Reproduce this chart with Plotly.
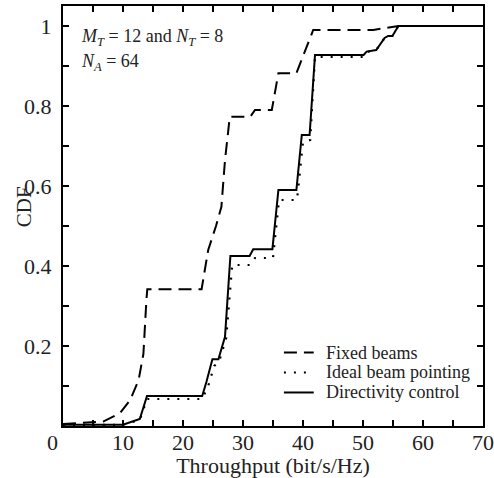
import plotly.graph_objects as go

# Throughput (bit/s/Hz) vs CDF
fixed_x = [0, 6.7, 9.5, 11.2, 12.6, 13.4, 13.9, 14.05, 23.1, 24.2, 25.5, 26.4, 27.0, 27.8, 31.2, 32.0, 34.8, 35.9, 38.9, 41.7, 51.7, 55.9, 70]
fixed_y = [0.005, 0.011, 0.032, 0.065, 0.115, 0.18, 0.315, 0.342, 0.342, 0.44, 0.50, 0.548, 0.665, 0.773, 0.773, 0.79, 0.79, 0.882, 0.882, 0.99, 0.99, 1.0, 1.0]

ideal_x = [0, 10, 12.8, 14, 23.2, 24.2, 25.2, 26.0, 27.2, 28.2, 31.2, 32.0, 35.0, 36.0, 39.0, 40.0, 41.2, 42.0, 50.1, 50.6, 52.2, 53.6, 54.2, 54.9, 55.9, 70]
ideal_y = [0.003, 0.003, 0.015, 0.0675, 0.0675, 0.10, 0.15, 0.16, 0.22, 0.4025, 0.4025, 0.42, 0.42, 0.565, 0.565, 0.71, 0.715, 0.9225, 0.9225, 0.935, 0.94, 0.97, 0.975, 0.975, 1.0, 1.0]

direct_x = [0, 10, 12.8, 14, 23.2, 23.9, 24.9, 25.9, 27.0, 27.9, 31.1, 31.7, 34.9, 35.9, 38.9, 39.8, 41.1, 42.0, 50.1, 50.6, 52.2, 53.6, 54.2, 54.9, 55.9, 70]
direct_y = [0.003, 0.003, 0.0175, 0.075, 0.075, 0.11, 0.167, 0.167, 0.223, 0.425, 0.425, 0.442, 0.442, 0.59, 0.59, 0.7275, 0.7275, 0.9275, 0.9275, 0.936, 0.94, 0.97, 0.975, 0.975, 1.0, 1.0]

series_names = ["Fixed beams", "Ideal beam pointing", "Directivity control"]

x_major = [10, 20, 30, 40, 50, 60, 70]
x_minor = [5, 15, 25, 35, 45, 55, 65]
y_major = [0.2, 0.4, 0.6, 0.8, 1.0]
y_major_text = ["0.2", "0.4", "0.6", "0.8", "1"]
y_minor = [0.1, 0.3, 0.5, 0.7, 0.9]

FONT = "Liberation Serif, Times New Roman, serif"
TXT = "#222"
DASHES = ["13px,7px", "2px,8px", "solid"]

fig = go.Figure()
for xs, ys, nm, ds in zip([fixed_x, ideal_x, direct_x], [fixed_y, ideal_y, direct_y], series_names, DASHES):
    fig.add_trace(go.Scatter(x=xs, y=ys, mode="lines", name=nm, showlegend=False,
                             line=dict(color="black", width=2 if ds != "2px,8px" else 2.2, dash=ds)))

axis_common = dict(showline=True, linewidth=2, linecolor="black", mirror="ticks",
                   ticks="inside", ticklen=6, tickwidth=1.5, tickcolor="black",
                   showgrid=False, zeroline=False, automargin=False,
                   ticklabeloverflow="allow",
                   tickfont=dict(family=FONT, size=22, color=TXT))

fig.update_xaxes(range=[0, 70], tickmode="array", tickvals=x_major, ticklabelstandoff=-4,
                 minor=dict(tickvals=x_minor, ticks="inside", ticklen=6, tickwidth=1.5, tickcolor="black"),
                 title=dict(text="Throughput (bit/s/Hz)", font=dict(family=FONT, size=22, color=TXT), standoff=3),
                 **axis_common)
fig.update_yaxes(range=[0, 1.05], tickmode="array", tickvals=y_major, ticktext=y_major_text,
                 ticklabelstandoff=5,
                 minor=dict(tickvals=y_minor, ticks="inside", ticklen=6, tickwidth=1.5, tickcolor="black"),
                 **axis_common)

# y-axis title
fig.add_annotation(xref="paper", yref="paper", x=-0.094, y=0.522, xanchor="center", yanchor="middle",
                   text="CDF", textangle=-90, showarrow=False, font=dict(family=FONT, size=21, color=TXT))
# shared origin label
fig.add_annotation(xref="paper", yref="paper", x=-0.026, y=-0.004, xanchor="center", yanchor="top",
                   text="0", showarrow=False, font=dict(family=FONT, size=22, color=TXT))
# parameter notes
fig.add_annotation(xref="paper", yref="paper", x=0.038, y=0.926, xanchor="left", yanchor="middle",
                   align="left",
                   text="<i>M</i><sub><i>T</i></sub> = 12 and <i>N</i><sub><i>T</i></sub> = 8",
                   showarrow=False, font=dict(family=FONT, size=18, color=TXT))
fig.add_annotation(xref="paper", yref="paper", x=0.038, y=0.866, xanchor="left", yanchor="middle",
                   align="left",
                   text="<i>N</i><sub><i>A</i></sub> = 64",
                   showarrow=False, font=dict(family=FONT, size=18, color=TXT))

# legend (inside, lower right)
leg_rows = [0.175, 0.1274, 0.0798]
for nm, ds, yy in zip(series_names, DASHES, leg_rows):
    fig.add_shape(type="line", xref="paper", yref="paper", x0=0.526, x1=0.597, y0=yy, y1=yy,
                  line=dict(color="black", width=2 if ds != "2px,8px" else 2.2, dash=ds))
    fig.add_annotation(xref="paper", yref="paper", x=0.622, y=yy, xanchor="left", yanchor="middle",
                       align="left", text=nm, showarrow=False, font=dict(family=FONT, size=18, color=TXT))

fig.update_layout(
    width=494, height=478,
    margin=dict(l=63, r=11, t=6, b=52),
    paper_bgcolor="white", plot_bgcolor="white",
    showlegend=False,
)

fig.write_html("out.html", config={"displayModeBar": False},
               post_script="document.body.style.margin='0';document.body.style.overflow='hidden';")
